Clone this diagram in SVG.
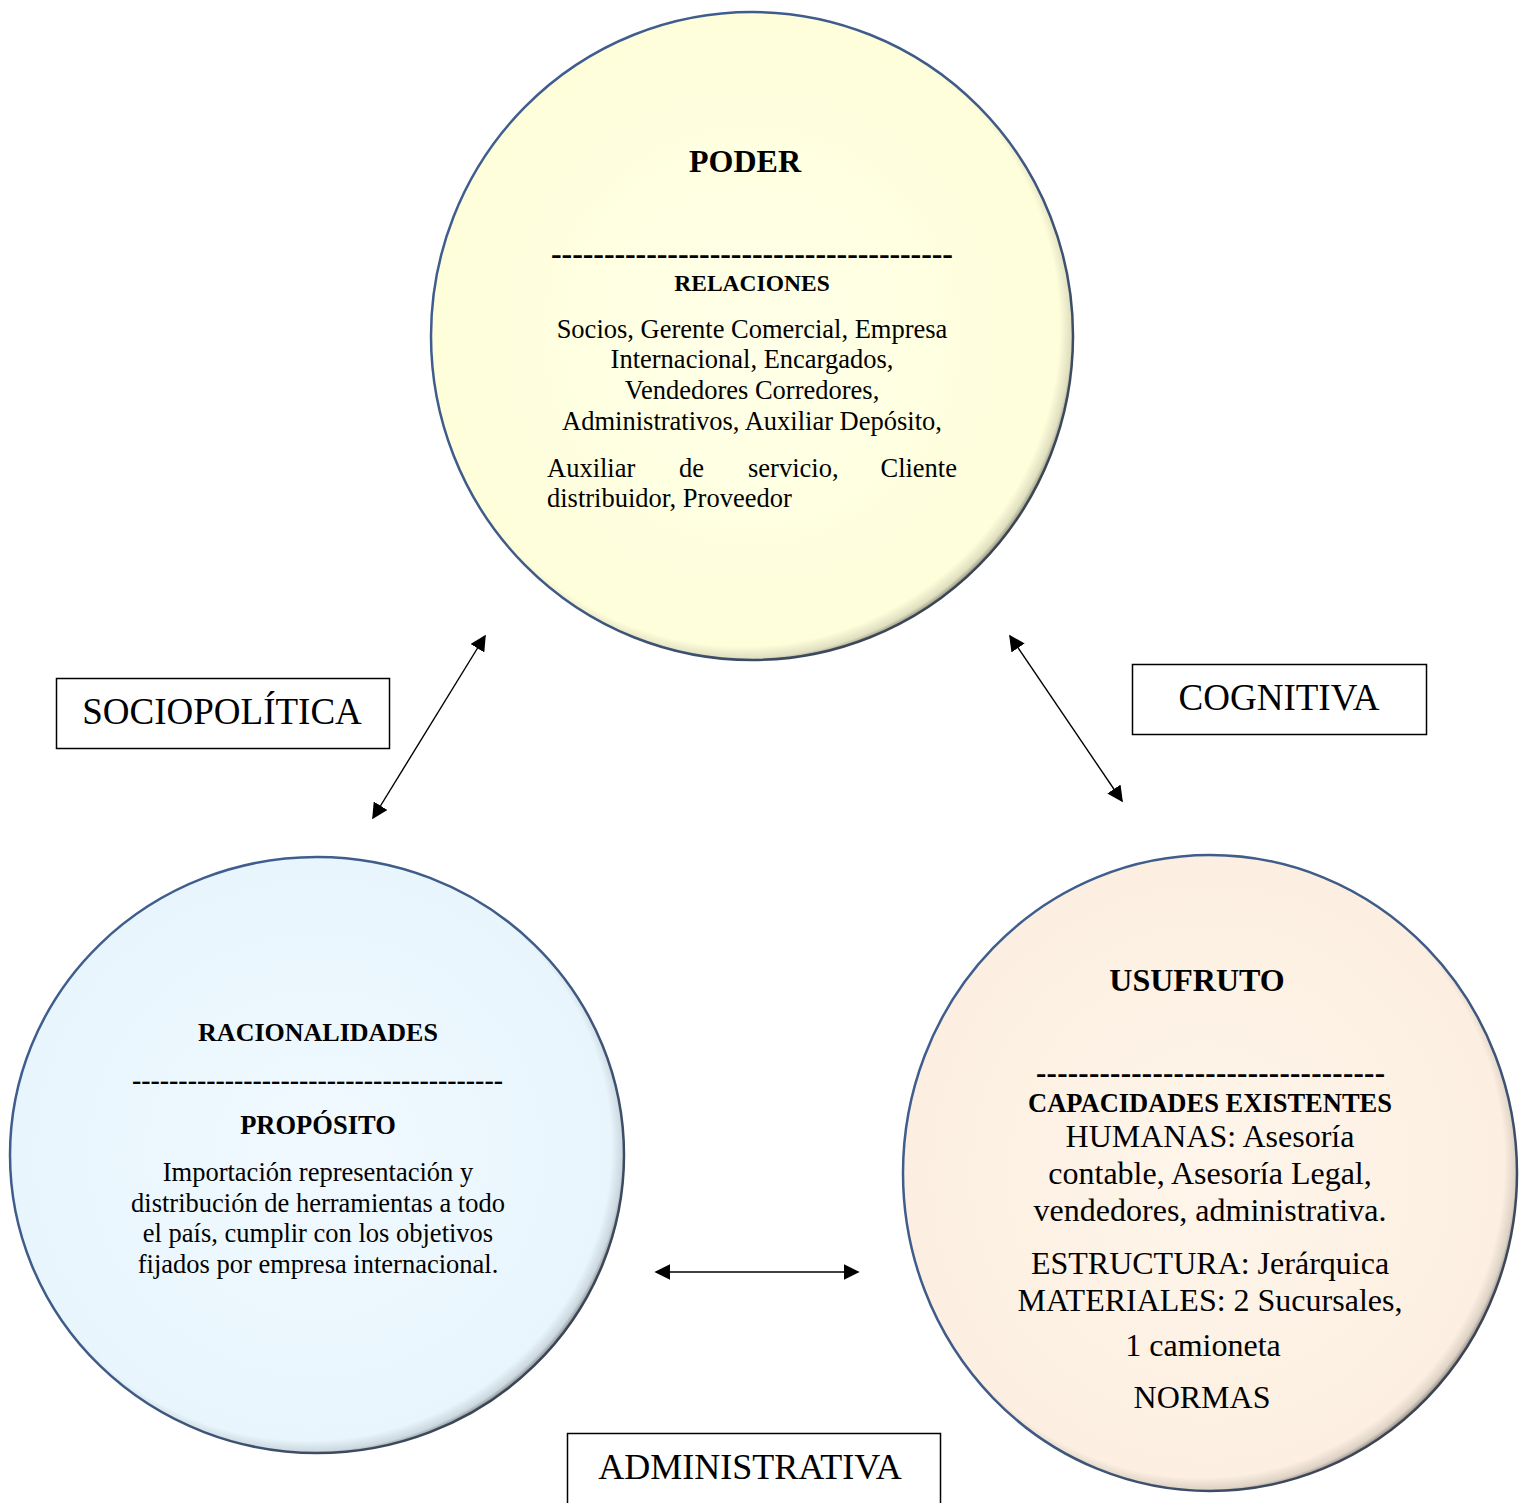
<svg xmlns="http://www.w3.org/2000/svg" width="1529" height="1503" viewBox="0 0 1529 1503">
<style>
  .t { font-family: "Liberation Serif", "Times New Roman", serif; fill: #000; }
  .b { font-weight: bold; }
  .c { text-anchor: middle; }
  .conn { stroke: #000; stroke-width: 1.4; fill: none; marker-start: url(#ah); marker-end: url(#ah); }
  .box { fill: #fff; stroke: #000; stroke-width: 1.5; }
  .rim { fill: none; stroke-width: 2.5; stroke: url(#rimg); }
  .shade { fill: url(#shadeg); }
</style>
<defs>
  <marker id="ah" viewBox="0 0 10 10" refX="9" refY="5" markerWidth="16" markerHeight="16" markerUnits="userSpaceOnUse" orient="auto-start-reverse">
    <path d="M0,0 L10,5 L0,10 z" fill="#000"/>
  </marker>
  <linearGradient id="rimg" x1="0" y1="0" x2="1" y2="1">
    <stop offset="0" stop-color="#3f5f92"/>
    <stop offset="0.55" stop-color="#3f5a85"/>
    <stop offset="1" stop-color="#3a3a3a"/>
  </linearGradient>
  <radialGradient id="shadeg" cx="0.485" cy="0.485" r="0.52">
    <stop offset="0.95" stop-color="#000" stop-opacity="0"/>
    <stop offset="0.985" stop-color="#000" stop-opacity="0.12"/>
    <stop offset="1" stop-color="#000" stop-opacity="0.4"/>
  </radialGradient>
  <radialGradient id="gy" cx="0.5" cy="0.5" r="0.5">
    <stop offset="0" stop-color="#ffffe8"/>
    <stop offset="1" stop-color="#fefedb"/>
  </radialGradient>
  <radialGradient id="gb" cx="0.5" cy="0.5" r="0.5">
    <stop offset="0" stop-color="#f0f9ff"/>
    <stop offset="1" stop-color="#e8f5fd"/>
  </radialGradient>
  <radialGradient id="go" cx="0.5" cy="0.5" r="0.5">
    <stop offset="0" stop-color="#fff5ea"/>
    <stop offset="1" stop-color="#fcefe1"/>
  </radialGradient>
</defs>
<rect width="1529" height="1503" fill="#fff"/>

<g id="poder">
  <ellipse cx="752" cy="336" rx="321" ry="324" fill="url(#gy)"/>
  <ellipse cx="752" cy="336" rx="321" ry="324" class="shade"/>
  <ellipse cx="752" cy="336" rx="321" ry="324" class="rim"/>
  <text class="t b c" x="745" y="172" font-size="32">PODER</text>
  <text class="t b" x="551" y="264" font-size="32" textLength="402" lengthAdjust="spacing">--------------------------------------</text>
  <text class="t b c" x="752" y="291" font-size="23.5">RELACIONES</text>
  <text class="t c" x="752" y="338" font-size="26.5">Socios, Gerente Comercial, Empresa</text>
  <text class="t c" x="752" y="368" font-size="26.5">Internacional, Encargados,</text>
  <text class="t c" x="752" y="399" font-size="26.5">Vendedores Corredores,</text>
  <text class="t c" x="752" y="430" font-size="26.5">Administrativos, Auxiliar Depósito,</text>
  <text class="t" x="547" y="477" font-size="26.5">Auxiliar</text>
  <text class="t" x="679" y="477" font-size="26.5">de</text>
  <text class="t" x="748" y="477" font-size="26.5">servicio,</text>
  <text class="t" x="957" y="477" font-size="26.5" text-anchor="end">Cliente</text>
  <text class="t" x="547" y="507" font-size="26.5">distribuidor, Proveedor</text>
</g>

<g id="racionalidades">
  <ellipse cx="317" cy="1155" rx="307" ry="298" fill="url(#gb)"/>
  <ellipse cx="317" cy="1155" rx="307" ry="298" class="shade"/>
  <ellipse cx="317" cy="1155" rx="307" ry="298" class="rim"/>
  <text class="t b c" x="318" y="1041" font-size="26">RACIONALIDADES</text>
  <text class="t b" x="132" y="1089" font-size="28" textLength="371" lengthAdjust="spacing">----------------------------------------</text>
  <text class="t b c" x="318" y="1134" font-size="26.5">PROPÓSITO</text>
  <text class="t c" x="318" y="1181" font-size="26.5">Importación representación y</text>
  <text class="t c" x="318" y="1212" font-size="26.5">distribución de herramientas a todo</text>
  <text class="t c" x="318" y="1242" font-size="26.5">el país, cumplir con los objetivos</text>
  <text class="t c" x="318" y="1273" font-size="26.5">fijados por empresa internacional.</text>
</g>

<g id="usufruto">
  <ellipse cx="1210" cy="1173" rx="307" ry="318" fill="url(#go)"/>
  <ellipse cx="1210" cy="1173" rx="307" ry="318" class="shade"/>
  <ellipse cx="1210" cy="1173" rx="307" ry="318" class="rim"/>
  <text class="t b c" x="1197" y="991" font-size="32">USUFRUTO</text>
  <text class="t b" x="1036" y="1083" font-size="31" textLength="349" lengthAdjust="spacing">---------------------------------</text>
  <text class="t b c" x="1210" y="1112" font-size="26.5">CAPACIDADES EXISTENTES</text>
  <text class="t c" x="1210" y="1147" font-size="32">HUMANAS: Asesoría</text>
  <text class="t c" x="1210" y="1184" font-size="32">contable, Asesoría Legal,</text>
  <text class="t c" x="1210" y="1221" font-size="32">vendedores, administrativa.</text>
  <text class="t c" x="1210" y="1274" font-size="32">ESTRUCTURA: Jerárquica</text>
  <text class="t c" x="1210" y="1311" font-size="32">MATERIALES: 2 Sucursales,</text>
  <text class="t c" x="1203" y="1356" font-size="32">1 camioneta</text>
  <text class="t c" x="1202" y="1408" font-size="32">NORMAS</text>
</g>

<g id="connectors">
  <line class="conn" x1="373" y1="818" x2="485" y2="636"/>
  <line class="conn" x1="1010" y1="636" x2="1122" y2="801"/>
  <line class="conn" x1="656" y1="1272" x2="858" y2="1272"/>
</g>

<g id="sociopolitica">
  <rect class="box" x="56.5" y="678.5" width="333" height="70"/>
  <text class="t c" x="222" y="724" font-size="37">SOCIOPOLÍTICA</text>
</g>
<g id="cognitiva">
  <rect class="box" x="1132.5" y="664.5" width="294" height="70"/>
  <text class="t c" x="1279" y="710" font-size="37">COGNITIVA</text>
</g>
<g id="administrativa">
  <rect class="box" x="567.5" y="1433.5" width="373" height="80"/>
  <text class="t c" x="750" y="1479" font-size="36">ADMINISTRATIVA</text>
</g>
</svg>
